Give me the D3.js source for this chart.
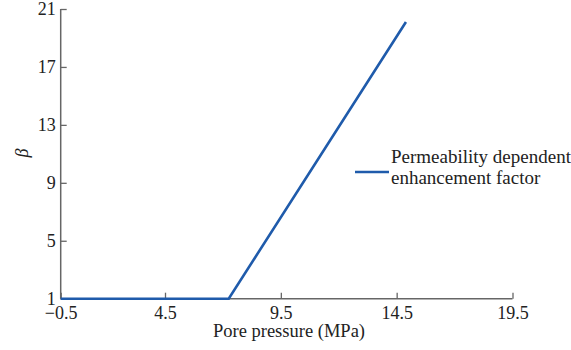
<!DOCTYPE html>
<html>
<head>
<meta charset="utf-8">
<script src="https://cdn.jsdelivr.net/npm/d3@7"></script>
<style>
  body { margin: 0; background: #fff; }
  text { font-family: "Liberation Serif", "DejaVu Serif", serif; fill: #222; }
</style>
</head>
<body>
<script>
// data
var pressure = [-0.5, 7.25, 14.9];
var beta = [1, 1, 20.1];
var xTicks = [-0.5, 4.5, 9.5, 14.5, 19.5];
var yTicks = [1, 5, 9, 13, 17, 21];
var seriesName = ['Permeability dependent', 'enhancement factor'];

var svgWidth = 571, svgHeight = 350;

var data = pressure.map(function(p, i) { return {p: p, b: beta[i]}; });

// the first x interval is drawn narrower than the others in the original
var xScale = d3.scaleLinear()
    .domain([-0.5, 4.5, 19.5])
    .range([60.7, 165, 512.5]);

var yScale = d3.scaleLinear()
    .domain([1, 21])
    .range([298.7, 9]);

var svg = d3.select('body')
    .append('svg')
    .attr('width', svgWidth)
    .attr('height', svgHeight);

var fmt = function(d) { return d3.format('.1f')(d).replace('-', '\u2212'); };

var xAxis = svg.append('g')
    .attr('transform', 'translate(0,' + yScale(1) + ')')
    .call(d3.axisBottom(xScale).tickValues(xTicks).tickSize(-6).tickPadding(8).tickFormat(fmt));

var yAxis = svg.append('g')
    .attr('transform', 'translate(' + xScale(-0.5) + ',0)')
    .call(d3.axisLeft(yScale).tickValues(yTicks).tickSize(-6).tickPadding(5).tickFormat(d3.format('d')));

[xAxis, yAxis].forEach(function(ax) {
    ax.select('.domain').attr('stroke', '#666').attr('stroke-width', 1.5);
    ax.selectAll('.tick line').attr('stroke', '#666').attr('stroke-width', 1.3);
    ax.selectAll('.tick text')
        .style('font-family', '"Liberation Serif", serif')
        .style('font-size', '18px')
        .attr('fill', '#222');
});
xAxis.select('.domain').attr('d', 'M' + xScale(-0.5) + ',0H' + xScale(19.5));
yAxis.select('.domain').attr('d', 'M0,' + yScale(1) + 'V' + yScale(21));

var line = d3.line()
    .x(function(d) { return xScale(d.p); })
    .y(function(d) { return yScale(d.b); });

svg.append('path')
    .datum(data)
    .attr('d', line)
    .attr('fill', 'none')
    .attr('stroke', '#1f5bab')
    .attr('stroke-width', 2.6);

// axis titles
svg.append('text')
    .attr('x', 289)
    .attr('y', 337)
    .attr('text-anchor', 'middle')
    .style('font-size', '18.5px')
    .text('Pore pressure (MPa)');

svg.append('text')
    .attr('transform', 'translate(28,153) rotate(-90)')
    .attr('text-anchor', 'middle')
    .style('font-size', '18px')
    .style('font-style', 'italic')
    .text('\u03b2');

// legend
var legend = svg.append('g');
legend.append('line')
    .attr('x1', 355).attr('x2', 389)
    .attr('y1', 172).attr('y2', 172)
    .attr('stroke', '#1f5bab')
    .attr('stroke-width', 2.6);
legend.selectAll('text.leg')
    .data(seriesName)
    .enter().append('text')
    .attr('class', 'leg')
    .attr('x', 391)
    .attr('y', function(d, i) { return 163 + i * 21; })
    .style('font-size', '19px')
    .text(function(d) { return d; });
</script>
</body>
</html>
